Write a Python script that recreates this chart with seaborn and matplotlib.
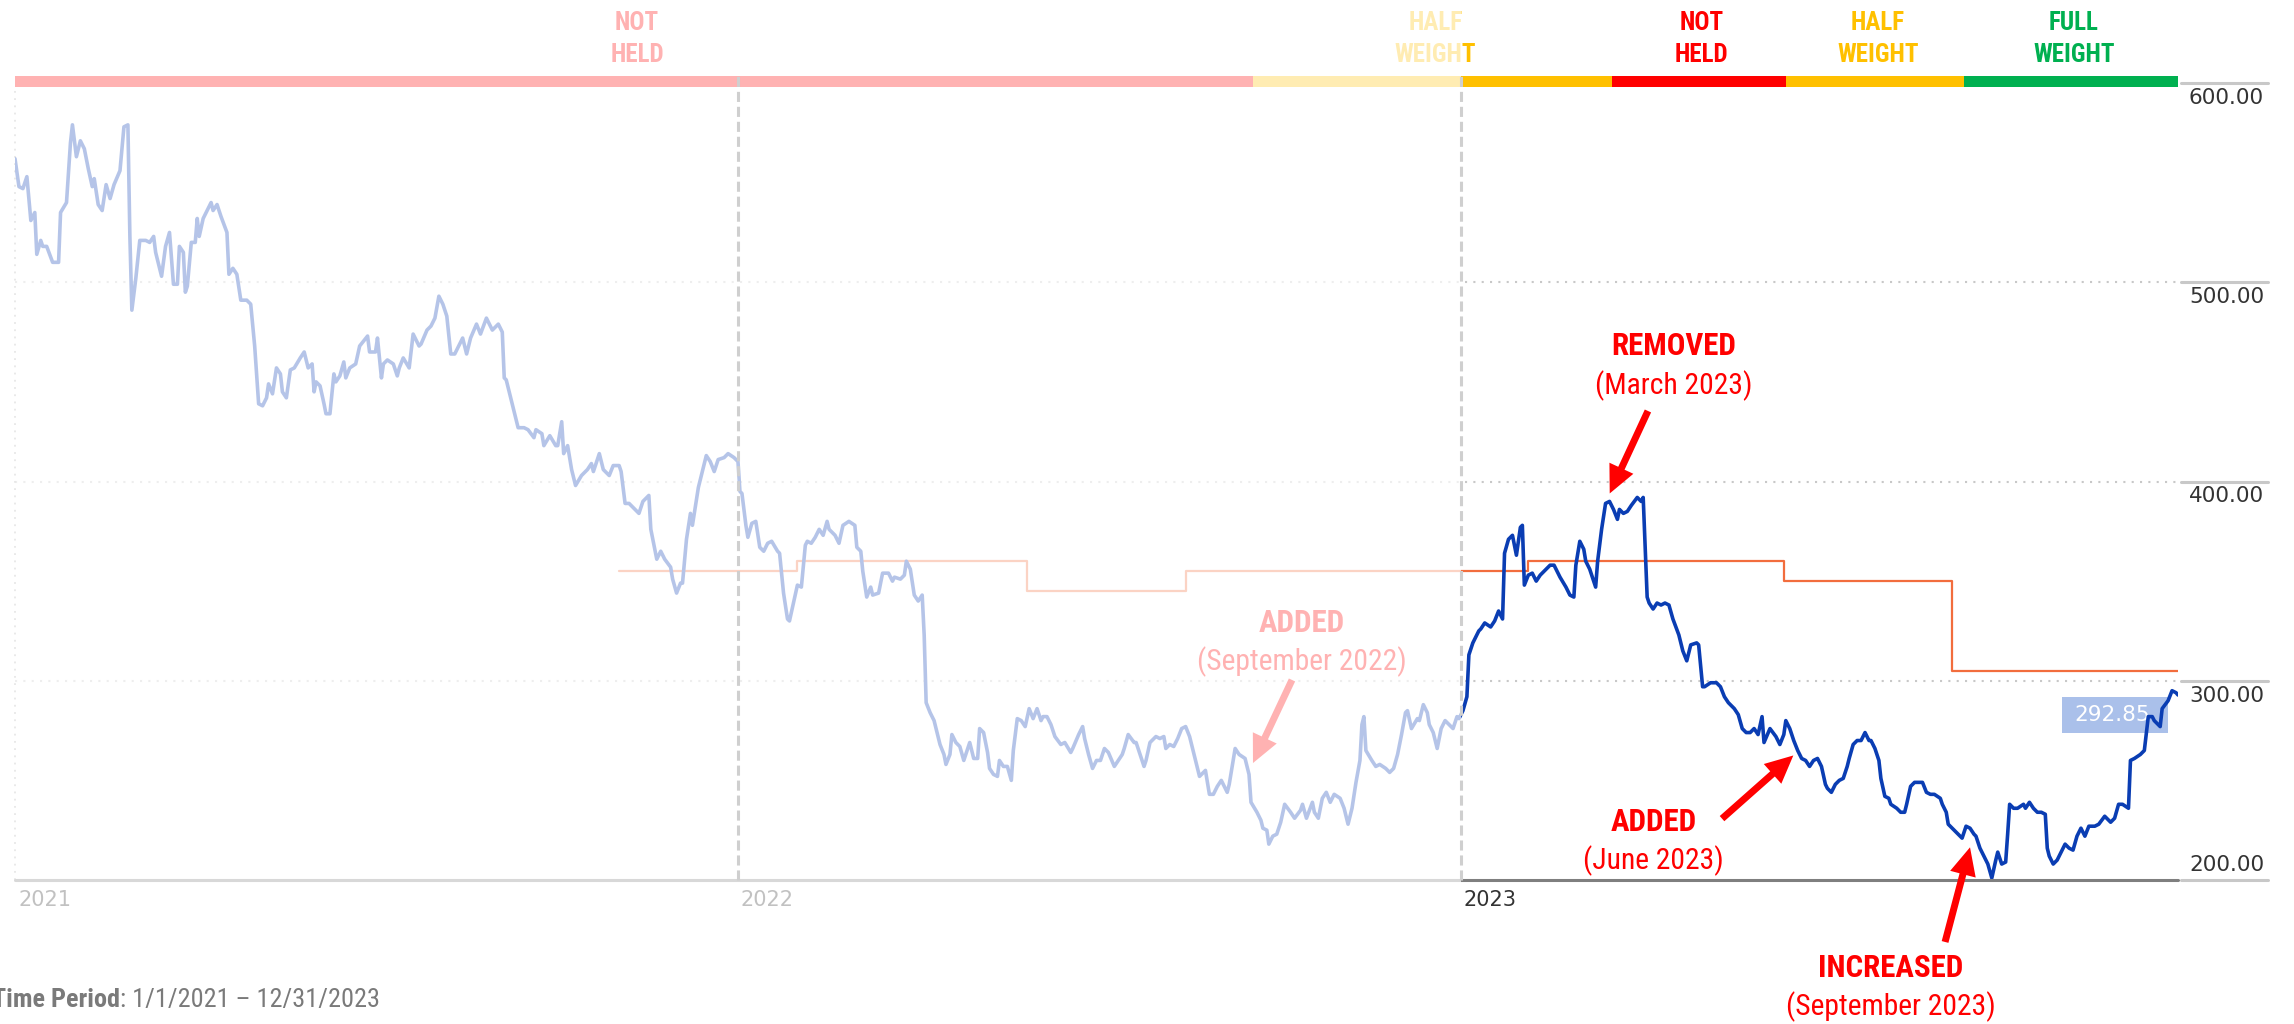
import pandas as pd
import matplotlib
matplotlib.use("Agg")
import matplotlib.pyplot as plt
import matplotlib.dates as mdates
import matplotlib.transforms as mtransforms
from matplotlib.patches import Rectangle
from matplotlib import font_manager as fm
import seaborn as sns
from datetime import datetime

# ---------------- data ----------------
START = datetime(2021, 1, 1)

# daily closing price, keyed by days since 1 Jan 2021
price_days = [
    0, 2, 4, 6, 8, 10, 11, 13, 14, 16, 19, 22, 23, 26, 28, 29, 31, 33, 35, 37,
    39, 40, 42, 44, 46, 48, 50, 53, 55, 57, 58, 59, 61, 63, 66, 68, 70, 71, 74, 76,
    78, 80, 82, 83, 85, 86, 87, 89, 91, 92, 93, 95, 97, 99, 100, 102, 104, 107, 108, 110,
    112, 114, 117, 119, 121, 123, 125, 127, 128, 130, 132, 134, 135, 137, 139, 141, 144, 146, 148, 150,
    151, 152, 154, 156, 157, 159, 161, 162, 164, 166, 167, 169, 172, 174, 178, 179, 182, 183, 185, 186,
    188, 191, 193, 194, 196, 199, 201, 204, 205, 208, 210, 212, 214, 216, 218, 220, 222, 225,
    226, 228, 230, 233, 235, 238, 241, 244, 246, 247, 248, 251, 254, 257, 259, 262, 263, 266, 267, 270,
    273, 274, 276, 277, 279, 281, 283, 286, 289, 291, 292, 295, 297, 300, 302, 305, 306, 308, 310, 313,
    315, 317, 320, 321, 324, 326, 328, 331, 332, 334, 336, 337, 339, 341, 342, 345, 347, 349, 351, 353,
    355, 358, 360, 363, 365, 366, 367, 369, 370, 372, 374, 376, 378, 380, 382, 385, 386, 388, 390, 391,
    393, 395, 397, 399, 400, 402, 404, 406, 408, 410, 411, 414, 416, 418, 421, 424, 425, 427, 428, 430,
    432, 433, 436, 438, 441, 443, 444, 447,
    449, 450, 452, 454, 456, 458, 459, 460, 462, 464, 465, 467, 469, 470, 472, 473, 475, 477, 479, 480,
    482, 484, 486, 487, 489, 491, 492, 494, 496, 497, 499, 501, 503, 504, 506, 508, 510, 512, 514, 516,
    518, 519, 521, 523, 525, 528, 530, 533, 534, 537, 539, 540, 542, 544, 546, 548, 550, 552, 555, 557,
    559, 560, 562, 565, 566, 568, 570, 571, 573, 576, 578, 580, 581, 583, 585, 587, 589, 591, 593, 596,
    598, 601, 603, 605, 607, 609, 612, 613, 616, 618, 621, 623, 624, 627, 629, 630, 632, 633, 635, 637,
    639, 641, 644, 646, 649, 650, 652, 655, 656, 658, 660, 662, 664, 666, 669,
    671, 673, 675, 677, 679, 680, 681, 682, 685, 687, 689, 692, 694, 696, 698, 700, 702, 703, 705, 708,
    709, 711, 713, 714, 716, 718, 720, 722, 724, 726, 728, 729, 731, 733, 734, 736, 739, 740, 742, 745,
    747, 749, 751, 752, 754, 756, 758, 760, 761, 762, 764, 766, 768, 770, 772, 775, 777, 780, 783, 785,
    787, 788, 790, 792, 793, 795, 798, 799, 801, 803, 805, 807, 809, 810, 812, 814, 816, 819, 821, 822,
    824, 825, 827, 829, 831, 833, 835, 837, 840, 842, 844, 846, 849, 850, 852, 853, 856, 859, 861, 863,
    865, 868, 870, 872, 874, 876, 878, 880, 882, 883, 886, 889, 891,
    893, 894, 896, 898, 900, 902, 904, 906, 908, 910, 912, 914, 915, 917, 919, 921, 923, 925, 926, 928,
    930, 932, 934, 936, 937, 939, 941, 942, 944, 946, 947, 950, 952, 954, 955, 957, 959, 962, 963, 965,
    967, 969, 972, 973, 975, 976, 978, 981, 983, 985, 987, 989, 990, 992, 994, 996, 998, 1000, 1001, 1003,
    1005, 1006, 1007, 1009, 1011, 1014, 1015, 1017, 1019, 1021, 1023, 1025, 1026, 1027, 1029, 1031, 1033, 1035, 1037, 1039,
    1041, 1043, 1045, 1047, 1050, 1052, 1055, 1058, 1060, 1062, 1064, 1067, 1068, 1070, 1073, 1075, 1077, 1079, 1080, 1083,
    1084, 1087, 1089, 1091, 1092,
]
price_values = [
    562, 548, 547, 553, 531, 535, 514, 521, 518, 518, 510, 510, 535, 540, 570, 579, 563, 571, 567, 557,
    548, 552, 539, 536, 549, 542, 549, 556, 578, 579, 523, 486, 502, 521, 521, 520, 523, 515, 503, 518,
    525, 499, 499, 518, 515, 495, 498, 520, 520, 532, 523, 532, 536, 540, 536, 539, 533, 525, 504, 507,
    504, 491, 491, 489, 468, 439, 438, 442, 449, 444, 457, 454, 445, 442, 456, 457, 462, 465, 457, 459,
    445, 450, 448, 439, 434, 434, 454, 450, 453, 460, 452, 457, 459, 468, 473, 465, 465, 472, 452, 459,
    461, 459, 453, 457, 462, 457, 474, 468, 469, 476, 478, 482, 493, 489, 483, 464, 464, 470,
    472, 464, 472, 479, 474, 482, 476, 479, 475, 452, 451, 439, 427, 427, 426, 422, 426, 424, 418, 423,
    418, 418, 430, 414, 418, 406, 398, 403, 406, 409, 405, 414, 406, 403, 408, 408, 405, 389, 389, 386,
    384, 390, 393, 376, 361, 365, 361, 357, 351, 344, 349, 349, 371, 384, 378, 397, 405, 413, 410, 405,
    411, 412, 414, 412, 410, 395, 394, 378, 372, 379, 380, 367, 365, 369, 370, 365, 364, 344, 331, 330,
    339, 348, 347, 368, 370, 369, 372, 376, 373, 380, 376, 373, 369, 378, 380, 378, 367, 365, 355, 342,
    347, 343, 344, 354, 354, 350, 352, 351,
    353, 360, 356, 343, 340, 343, 323, 289, 284, 280, 276, 268, 263, 258, 263, 273, 269, 267, 260, 263,
    269, 261, 261, 276, 274, 264, 256, 253, 252, 260, 257, 257, 250, 265, 281, 280, 277, 286, 281, 286,
    280, 282, 282, 278, 272, 268, 269, 264, 266, 273, 277, 271, 263, 256, 260, 260, 266, 264, 257, 260,
    263, 266, 273, 269, 269, 263, 257, 260, 269, 272, 271, 272, 266, 268, 267, 271, 276, 277, 272, 260,
    252, 255, 243, 243, 247, 250, 244, 248, 266, 263, 261, 253, 239, 234, 230, 226, 225, 218, 222, 223,
    229, 238, 234, 231, 235, 238, 231, 239, 234, 231, 241, 244, 239, 243, 241,
    236, 228, 236, 249, 260, 278, 282, 265, 260, 257, 258, 256, 254, 256, 263, 273, 284, 285, 276, 281,
    280, 288, 284, 278, 274, 266, 276, 280, 278, 276, 282, 281, 285, 292, 313, 319, 325, 326, 329, 327,
    330, 335, 331, 364, 371, 373, 363, 377, 378, 348, 353, 354, 350, 353, 355, 358, 358, 352, 347, 343,
    342, 358, 370, 366, 360, 356, 347, 360, 376, 389, 390, 386, 381, 386, 384, 385, 388, 392, 390, 392,
    342, 339, 336, 339, 338, 339, 338, 331, 323, 315, 310, 318, 319, 318, 297, 297, 299, 299, 297, 292,
    289, 286, 283, 276, 274, 274, 276, 273, 282, 269, 276, 272, 268,
    273, 280, 276, 270, 265, 261, 260, 257, 260, 261, 257, 248, 246, 244, 248, 250, 251, 257, 261, 268,
    270, 270, 274, 270, 270, 266, 260, 251, 242, 241, 238, 236, 234, 234, 238, 247, 249, 249, 249, 244,
    243, 243, 241, 238, 234, 228, 226, 223, 221, 227, 226, 223, 222, 216, 212, 208, 201, 210, 214, 208,
    209, 223, 238, 236, 236, 238, 236, 239, 236, 234, 234, 233, 216, 212, 208, 210, 214, 218, 216, 215,
    222, 226, 222, 227, 227, 228, 232, 229, 231, 238, 238, 236, 260, 261, 263, 265, 282, 282, 280, 277,
    286, 290, 295, 294, 292.85,
]

# fair value estimate (step series), days since 1 Jan 2021
fv_days = [305, 395, 511, 591, 764, 893, 978, 1092]
fv_values = [355, 360, 345, 355, 360, 350, 305, 305]

# portfolio status bands: boundaries in days since 1 Jan 2021
status_days = [0, 625, 806, 894, 984, 1092]
status_labels = ["NOT HELD", "HALF WEIGHT", "NOT HELD", "HALF WEIGHT", "FULL WEIGHT"]

year_days = [0, 365, 730]
year_labels = ["2021", "2022", "2023"]
y_ticks = [200, 300, 400, 500, 600]

# ---------------- style ----------------
sns.set_theme(style="white")
plt.rcParams["font.family"] = ["DejaVu Sans"]

_families = {f.name for f in fm.fontManager.ttflist}
if "Liberation Sans Narrow" in _families:
    NARROW, NS = "Liberation Sans Narrow", 1.0
elif "Roboto Condensed" in _families:
    NARROW, NS = "Roboto Condensed", 0.97
else:
    NARROW, NS = "Liberation Sans", 0.86
NARROW_FAMILY = [NARROW, "DejaVu Sans"]

RED = "#ff0000"
STATUS_COLORS = {"NOT HELD": "#ff0000", "HALF WEIGHT": "#ffc000", "FULL WEIGHT": "#00b050"}
BLUE = "#0a3db3"
FV_COLOR = "#f26d3d"
GRAY_TXT = "#333333"

W, H = 2294, 1024
fig = plt.figure(figsize=(W / 100, H / 100), dpi=100)
ax = fig.add_axes([15 / W, 144 / H, 2163 / W, 797 / H])

START_NUM = mdates.date2num(START)


def dn(day):
    return START_NUM + day


dates = pd.to_datetime(START) + pd.to_timedelta(price_days, unit="D")
prices = pd.DataFrame({"date": dates, "price": price_values})
fv = pd.DataFrame({"date": pd.to_datetime(START) + pd.to_timedelta(fv_days, unit="D"),
                   "fv": fv_values})

sns.lineplot(data=prices, x="date", y="price", ax=ax, color=BLUE, lw=2.6,
             estimator=None, sort=False, zorder=4)
sns.lineplot(data=fv, x="date", y="fv", ax=ax, color=FV_COLOR, lw=1.6,
             drawstyle="steps-post", estimator=None, sort=False, zorder=3)

ax.set_xlim(dn(0), dn(status_days[-1]))
ax.set_ylim(200, 600)
ax.set_xlabel("")
ax.set_ylabel("")
for s in ax.spines.values():
    s.set_visible(False)

# dotted horizontal grid and base line
for v in y_ticks[1:-1]:
    ax.axhline(v, color="#c8c8c8", lw=1.5, ls=(0, (1, 3)), zorder=1)
ax.axhline(200, color="#7f7f7f", lw=2.2, zorder=6, clip_on=False)
ax.plot([dn(0), dn(0)], [200, 598], color="#b0b0b0", lw=1.3, ls=(0, (1, 3)),
        zorder=1, clip_on=False)

# right-hand value scale
br = mtransforms.blended_transform_factory(ax.transAxes, ax.transData)
for v in y_ticks:
    ax.plot([1.0014, 1.0416], [v, v], transform=br, color="#c8c8c8", lw=2.2,
            clip_on=False, zorder=6)
    dy = 15 if v == min(y_ticks) else -15
    ax.annotate(f"{v:.2f}", xy=(1.0, v), xycoords=br, xytext=(11, dy),
                textcoords="offset pixels", ha="left", va="center",
                fontsize=15.5, color=GRAY_TXT, annotation_clip=False)
ax.set_yticks([])

# year ticks
ax.set_xticks([dn(d) for d in year_days])
ax.set_xticklabels(year_labels, ha="left")
ax.tick_params(axis="x", length=0, pad=7, labelsize=15, labelcolor=GRAY_TXT)
shift = mtransforms.ScaledTranslation(3 / 100, 0, fig.dpi_scale_trans)
for lab in ax.get_xticklabels():
    lab.set_transform(lab.get_transform() + shift)

# status band with labels
bf = mtransforms.blended_transform_factory(ax.transData, fig.transFigure)
for s, e, lab in zip(status_days[:-1], status_days[1:], status_labels):
    col = STATUS_COLORS[lab]
    ax.add_patch(Rectangle((dn(s), 598.0), dn(e) - dn(s), 5.5, facecolor=col,
                           lw=0, clip_on=False, zorder=5))
    top, bottom = lab.split(" ")
    xm = dn((s + e) / 2 + 1.5)
    for word, yy in ((top, 1 - 23 / H), (bottom, 1 - 55 / H)):
        ax.text(xm, yy, word, transform=bf, family=NARROW_FAMILY,
                weight="bold", fontsize=18.6 * NS, color=col, ha="center",
                va="center", clip_on=False, zorder=6)


# call-outs
def callout(title, when, x_day, y_title, y_when, tail, tip):
    ax.text(dn(x_day), y_title, title, family=NARROW_FAMILY,
            weight="bold", fontsize=23 * NS, color=RED, ha="center",
            va="center", clip_on=False, zorder=7)
    ax.text(dn(x_day), y_when, when, family=NARROW_FAMILY,
            fontsize=22 * NS, color=RED, ha="center", va="center",
            clip_on=False, zorder=7)
    ax.annotate("", xy=(dn(tip[0]), tip[1]), xytext=(dn(tail[0]), tail[1]),
                arrowprops=dict(arrowstyle="simple,head_length=1.0,head_width=0.95,tail_width=0.25",
                                mutation_scale=20, fc=RED, ec=RED, lw=0,
                                shrinkA=0, shrinkB=0),
                annotation_clip=False, zorder=7)


callout("ADDED", "(September 2022)", 649.7, 329, 309.4, (644.7, 300.4), (625, 258.7))
callout("REMOVED", "(March 2023)", 837.5, 468, 448, (824.4, 435.4), (805.1, 394))
callout("ADDED", "(June 2023)", 827.3, 229, 209.7, (861.8, 230.8), (897.8, 262.5))
callout("INCREASED", "(September 2023)", 947.1, 155.8, 136.3, (974.4, 168.9), (987, 216.4))

# last value tag
last_day, last_val = price_days[-1], price_values[-1]
ax.add_patch(Rectangle((dn(last_day - 58.6), last_val - 19), 53.6, 18,
                       facecolor="#aac0ea", lw=0, zorder=3))
ax.text(dn(last_day - 33), last_val - 10, f"{last_val:.2f}", color="white",
        fontsize=15.5, ha="center", va="center", zorder=3.5)

# fade everything before the current year
ax.add_patch(Rectangle((dn(-60), 0.07), dn(year_days[-1]) - dn(-60), 0.94,
                       transform=bf, facecolor="white", alpha=0.7, lw=0,
                       zorder=10, clip_on=False))

# year separators
for d in year_days[1:]:
    ax.plot([dn(d), dn(d)], [200, 603.5], color="#cfcfcf", lw=2.2,
            dashes=(3.3, 1.6), zorder=11, clip_on=False)

# footer
t1 = fig.text(-8 / W, 12 / H, "Time Period", family=NARROW_FAMILY,
              weight="bold", fontsize=19.5 * NS, color="#7a7a7a", ha="left",
              va="bottom")
ax.annotate(": 1/1/2021 \u2013 12/31/2023", xy=(1, 0), xycoords=t1,
            xytext=(0, 0), textcoords="offset points", ha="left", va="bottom",
            family=NARROW_FAMILY, fontsize=19.5 * NS, color="#7a7a7a",
            annotation_clip=False)

fig.savefig("out.png", dpi=100)
